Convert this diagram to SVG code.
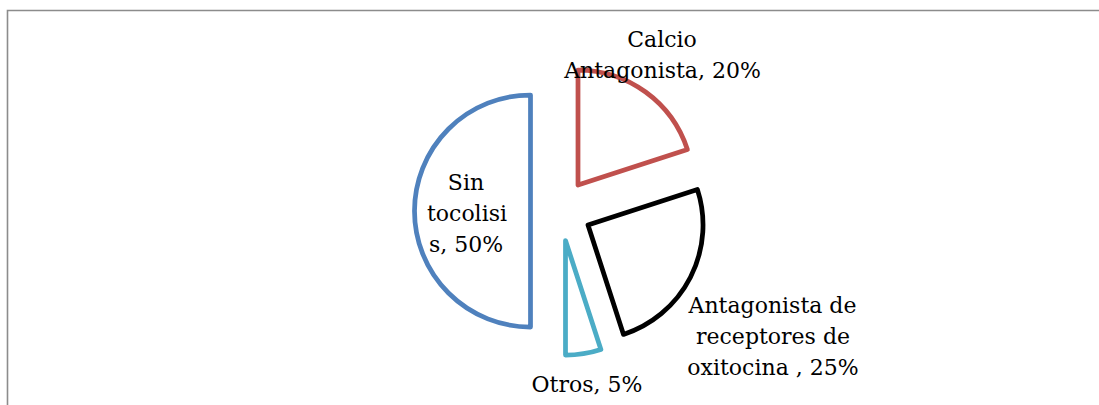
<svg xmlns="http://www.w3.org/2000/svg" width="1099" height="405" viewBox="0 0 1099 405">
<style>
.slice{fill:#fff;stroke-width:4.75;stroke-linejoin:round}
.lbl{font-family:"DejaVu Serif","Liberation Serif",serif;font-size:22px;fill:#000;text-anchor:middle}
</style>
<rect width="1099" height="405" fill="#fff"/>
<path d="M7.5,405 V10.5 H1099" fill="none" stroke="#8c8c8c" stroke-width="1.6"/>
<g id="sin-tocolisis">
<path class="slice" stroke="#4F81BD" d="M530.5,95 A116,116 0 0 0 530.5,327 Z"/>
<text class="lbl" x="466" y="190">Sin</text>
<text class="lbl" x="467" y="221">tocolisi</text>
<text class="lbl" x="466" y="252">s, 50%</text>
</g>
<g id="calcio">
<path class="slice" stroke="#C0504D" d="M578,185 L578,70 A115,115 0 0 1 687.4,149.5 Z"/>
<text class="lbl" x="662" y="47">Calcio</text>
<text class="lbl" x="662.5" y="78">Antagonista, 20%</text>
</g>
<g id="oxitocina">
<path class="slice" stroke="#000" d="M588,225 L697.4,189.5 A115,115 0 0 1 623.5,334.4 Z"/>
<text class="lbl" x="772.5" y="313">Antagonista de</text>
<text class="lbl" x="773" y="344">receptores de</text>
<text class="lbl" x="773" y="375">oxitocina , 25%</text>
</g>
<g id="otros">
<path class="slice" stroke="#4BACC6" d="M565.5,240.5 L600.9,349.4 A114.5,114.5 0 0 1 565.5,355 Z"/>
<text class="lbl" x="587" y="392">Otros, 5%</text>
</g>
<g id="connectors"></g>
</svg>
